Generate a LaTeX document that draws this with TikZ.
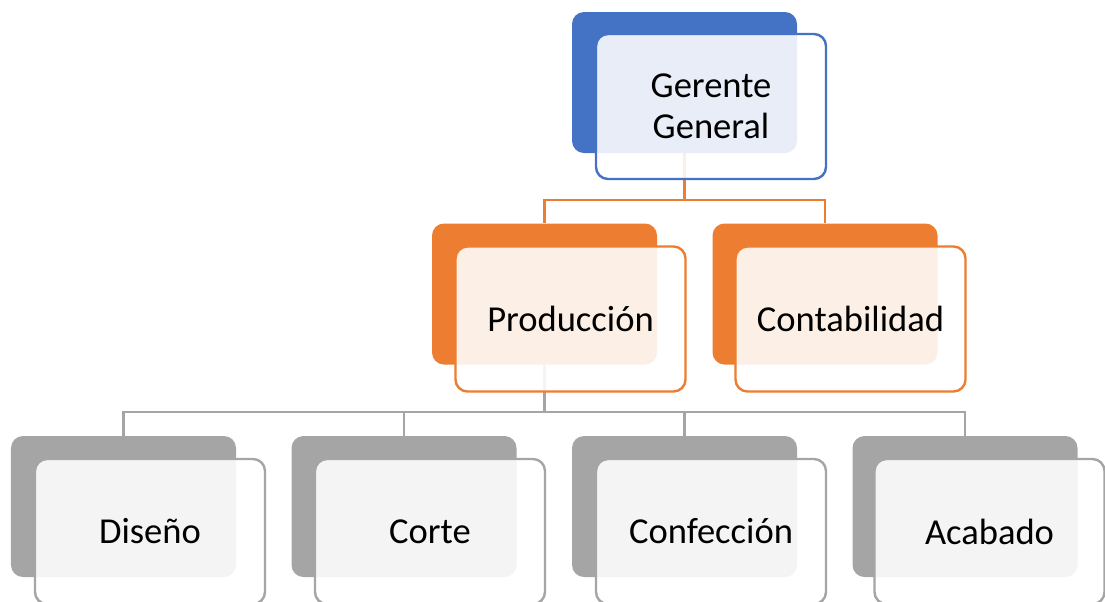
\documentclass[tikz,border=0pt]{standalone}
\usepackage{fontspec}
\setmainfont{Carlito}

\definecolor{ogblue}{HTML}{4472C4}
\definecolor{ogorange}{HTML}{ED7D31}
\definecolor{oggray}{HTML}{A5A5A5}

\tikzset{
  backbox/.style={rectangle,rounded corners=3mm,fill=#1,inner sep=0pt,
    minimum width=5.625cm,minimum height=3.525cm},
  frontbox/.style={rectangle,rounded corners=3mm,draw=#1,line width=1.7pt,
    fill=white,fill opacity=0.88,text opacity=1,inner sep=0pt,
    minimum width=5.75cm,minimum height=3.625cm,align=center,
    font=\fontsize{26}{29.5}\selectfont},
  linkline/.style={draw=#1,line width=2pt}
}

\begin{document}
\begin{tikzpicture}[x=0.25mm,y=-0.25mm]
\useasboundingbox (0,0) rectangle (1105,601);
\clip (0,0) rectangle (1105,601);

% dark boxes behind
\node[backbox=ogblue] (gg) at (684.5,82.5) {};
\node[backbox=ogorange] (prod) at (544.5,294) {};
\node[backbox=ogorange] (cont) at (825,294) {};
\foreach \n/\x in {dis/123.5,cor/404,conf/684.5,acab/965}
\node[backbox=oggray] (\n) at (\x,506.5) {};

% connectors
\coordinate (ggbus) at (684.5,200);
\draw[linkline=ogorange] (gg.south) -- (ggbus) -| (prod.north);
\draw[linkline=ogorange] (ggbus) -| (cont.north);
\coordinate (prodbus) at (544.5,412);
\draw[linkline=oggray] (prod.south) -- (prodbus) -| (dis.north);
\draw[linkline=oggray] (prodbus) -| (cor.north);
\draw[linkline=oggray] (prodbus) -| (conf.north);
\draw[linkline=oggray] (prodbus) -| (acab.north);

% light boxes with the names
\node[frontbox=ogblue] (ggf) at (711,106.5) {Gerente\\General};
\node[frontbox=ogorange] (prodf) at (570.5,319) {Producción};
\node[frontbox=ogorange] (contf) at (850.5,319) {Contabilidad};
\node[frontbox=oggray] (disf) at (150,531.5) {Diseño};
\node[frontbox=oggray] (corf) at (430,531.5) {Corte};
\node[frontbox=oggray] (conff) at (711,531.5) {Confección};
\node[frontbox=oggray] (acabf) at (989.5,531.5) {Acabado};
\end{tikzpicture}
\end{document}
